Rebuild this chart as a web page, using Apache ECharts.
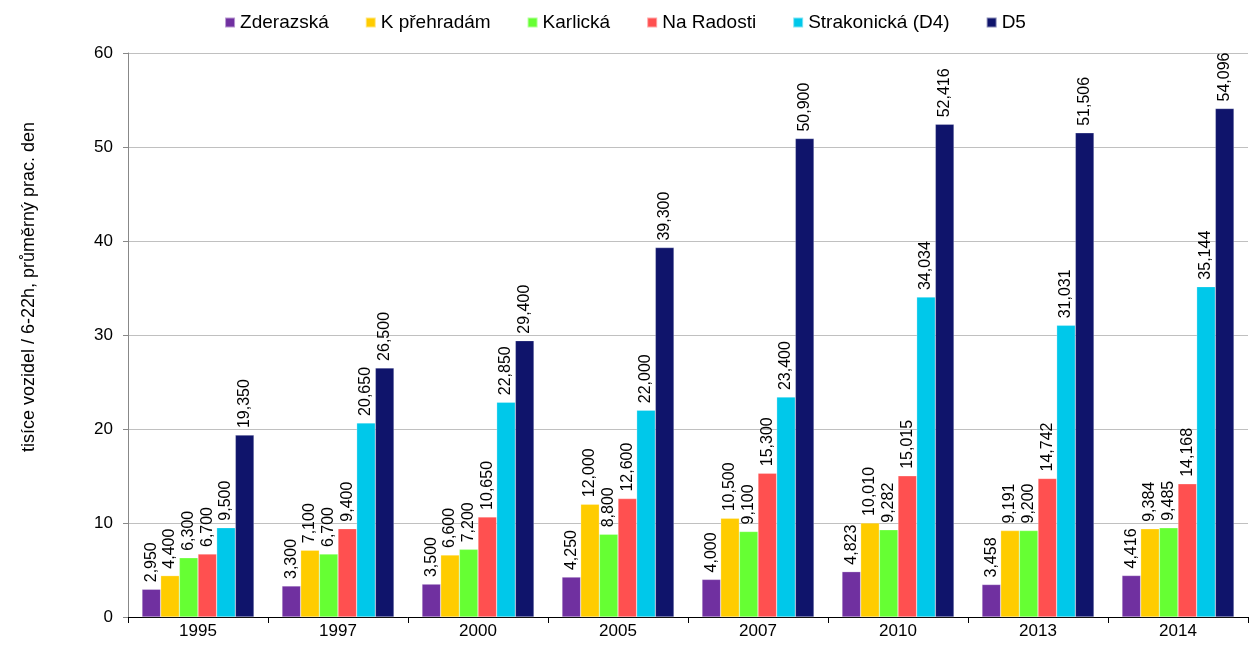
<!DOCTYPE html>
<html>
<head>
<meta charset="utf-8">
<script src="https://cdn.jsdelivr.net/npm/echarts@6/dist/echarts.min.js"></script>
<style>
  html, body { margin: 0; padding: 0; background: #fff; }
  #chart { width: 1250px; height: 645px; }
</style>
</head>
<body>
<div id="chart"></div>
<script>
// roky
const years = ['1995', '1997', '2000', '2005', '2007', '2010', '2013', '2014'];

// tisíce vozidel / 6-22h
const zderazska = [2.95, 3.3, 3.5, 4.25, 4.0, 4.823, 3.458, 4.416];
const kPrehradam = [4.4, 7.1, 6.6, 12.0, 10.5, 10.01, 9.191, 9.384];
const karlicka = [6.3, 6.7, 7.2, 8.8, 9.1, 9.282, 9.2, 9.485];
const naRadosti = [6.7, 9.4, 10.65, 12.6, 15.3, 15.015, 14.742, 14.168];
const strakonicka = [9.5, 20.65, 22.85, 22.0, 23.4, 34.034, 31.031, 35.144];
const d5 = [19.35, 26.5, 29.4, 39.3, 50.9, 52.416, 51.506, 54.096];

const seriesDefs = [
    { name: 'Zderazská', data: zderazska, color: '#7030a0' },
    { name: 'K přehradám', data: kPrehradam, color: '#ffcc00' },
    { name: 'Karlická', data: karlicka, color: '#66ff33' },
    { name: 'Na Radosti', data: naRadosti, color: '#ff5050' },
    { name: 'Strakonická (D4)', data: strakonicka, color: '#00c8ea' },
    { name: 'D5', data: d5, color: '#0f146b' }
];

const font = 'Liberation Sans, Arial, sans-serif';

const chart = echarts.init(document.getElementById('chart'));

chart.setOption({
    animation: false,
    textStyle: { fontFamily: font },
    legend: {
        top: 8,
        left: 'center',
        itemWidth: 10,
        itemHeight: 10,
        itemGap: 36,
        icon: 'rect',
        textStyle: { fontSize: 19, color: '#000', fontFamily: font }
    },
    grid: { left: 128, right: 2, top: 53, bottom: 28 },
    xAxis: {
        type: 'category',
        data: years,
        axisLine: { lineStyle: { color: '#000' } },
        axisTick: { show: true, length: 6, lineStyle: { color: '#000' } },
        axisLabel: { fontSize: 17, color: '#000', margin: 6 }
    },
    yAxis: {
        type: 'value',
        min: 0,
        max: 60,
        interval: 10,
        name: 'tisíce vozidel / 6-22h, průměrný prac. den',
        nameLocation: 'middle',
        nameGap: 90,
        nameRotate: 90,
        nameTextStyle: { fontSize: 18, color: '#000', padding: [0, 0, 0, 96] },
        axisLine: { show: true, lineStyle: { color: '#888' } },
        axisTick: { show: true, length: 5, lineStyle: { color: '#888' } },
        axisLabel: { fontSize: 17, color: '#000', margin: 15 },
        splitLine: { lineStyle: { color: '#c0c0c0' } }
    },
    series: seriesDefs.map((s) => ({
        name: s.name,
        type: 'bar',
        data: s.data,
        barGap: '0%',
        barCategoryGap: '20%',
        itemStyle: { color: s.color, borderColor: 'rgba(255,255,255,0.5)', borderWidth: 0.5 },
        label: {
            show: true,
            position: 'top',
            rotate: 90,
            align: 'left',
            verticalAlign: 'middle',
            distance: 7,
            fontSize: 16,
            color: '#000',
            formatter: (p) => p.value.toFixed(3).replace('.', ',')
        }
    }))
});
</script>
</body>
</html>
